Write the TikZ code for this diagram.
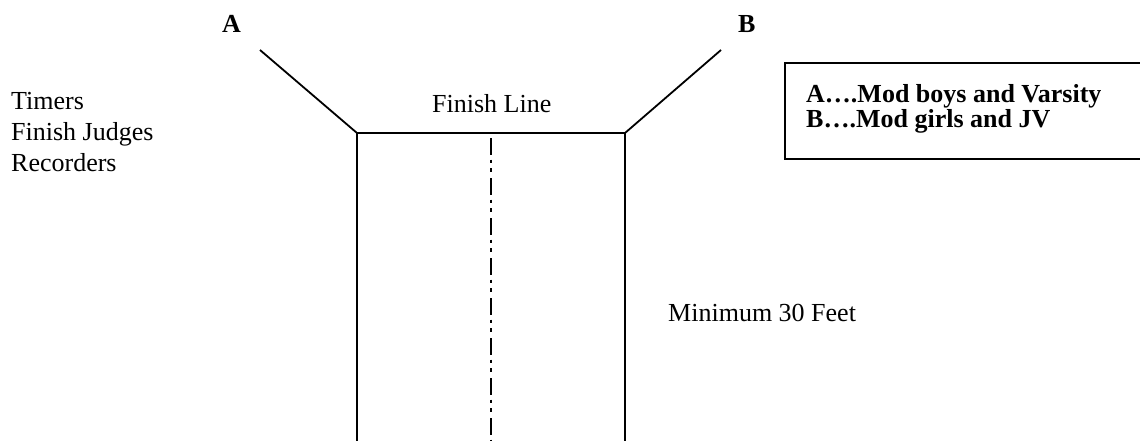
\documentclass[tikz,border=0pt]{standalone}
\usepackage{fontspec}
\setmainfont{Liberation Serif}
\begin{document}
\begin{tikzpicture}[x=1pt,y=-1pt,
  lbl/.style={inner sep=0pt,anchor=base west,font=\fontsize{26}{30}\selectfont},
  blbl/.style={lbl,font=\fontsize{26}{30}\selectfont\bfseries},
  edge/.style={line width=1.8pt,line cap=butt},
  thin/.style={line width=1.2pt},
  centre/.style={line width=2pt,dash pattern=on 17pt off 4.5pt on 3.5pt off 5pt on 3.5pt off 6.5pt}]
\useasboundingbox (0,0) rectangle (1140,440);
\clip (0,0) rectangle (1140,440);
% key coordinates
\coordinate (aend) at (260,50);
\coordinate (bend) at (721,50);
\coordinate (lc) at (357,133);
\coordinate (rc) at (625,133);
\coordinate (lb) at (357,441);
\coordinate (rb) at (625,441);
\coordinate (ft1) at (413,133);
\coordinate (ft2) at (587,133);
\coordinate (ctop) at (490.5,138);
\coordinate (cbot) at (490.5,441);
% labels
\node[blbl] (A) at (222,32) {A};
\node[blbl] (B) at (738,32) {B};
\node[lbl] (timers) at (11,109) {Timers};
\node[lbl] (judges) at (11,140) {Finish Judges};
\node[lbl] (rec) at (11,171) {Recorders};
\node[lbl] (finish) at (432,112) {Finish Line};
\node[lbl] (min) at (668,321) {Minimum 30 Feet};
% legend box
\draw[line width=2.2pt] (785,63) rectangle (1160,159);
\node[blbl] (k1) at (806,102) {A….Mod boys and Varsity};
\node[blbl] (k2) at (806,127) {B….Mod girls and JV};
% chute
\draw[edge] (aend) -- (lc) -- (ft1);
\draw[thin] (ft1) -- (ft2);
\draw[edge] (ft2) -- (rc) -- (bend);
\draw[edge] (lc) -- (lb);
\draw[edge] (rc) -- (rb);
\draw[centre] (ctop) -- (cbot);
\end{tikzpicture}
\end{document}
